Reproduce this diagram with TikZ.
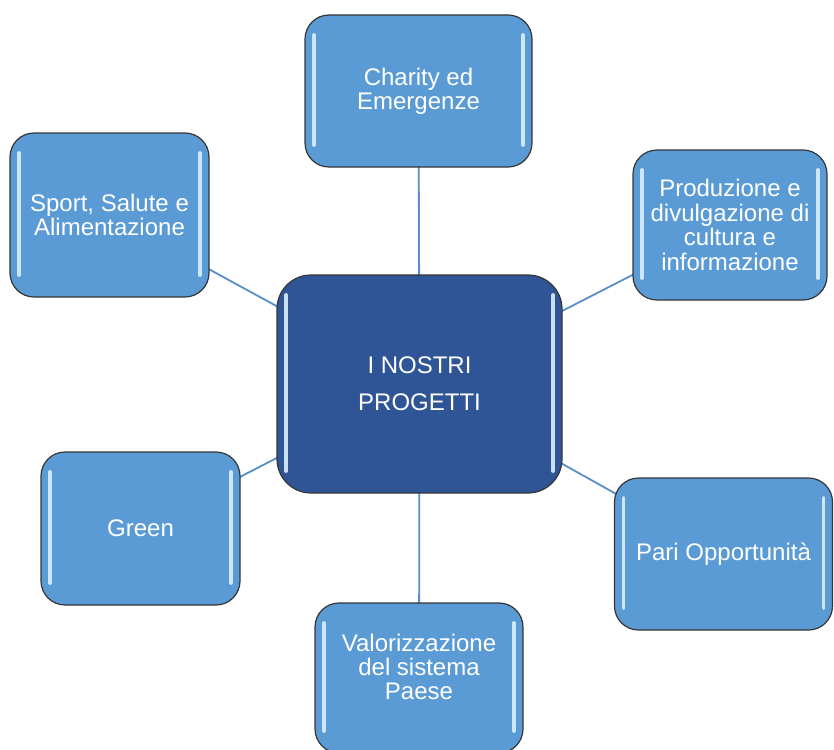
\documentclass[tikz,border=0pt]{standalone}
\usepackage{fontspec}
\setmainfont{Liberation Sans}
\usetikzlibrary{backgrounds}
\definecolor{LIGHTBLUE}{HTML}{5B9BD5}
\definecolor{DARKBLUE}{HTML}{2F5597}
\definecolor{LINEBLUE}{HTML}{5A8EC6}
\definecolor{EDGE}{HTML}{363636}
\definecolor{GLOSS}{HTML}{DCEEFC}

\begin{document}
\begin{tikzpicture}[x=0.5pt, y=-0.5pt,
    box/.style={draw=EDGE, line width=0.6pt, fill=LIGHTBLUE, rounded corners=12pt,
      text=white, align=center, inner sep=0pt, font=\fontsize{12}{12.2}\selectfont,
      path picture={
        \draw[GLOSS, line width=1.9pt, line cap=round, opacity=0.9]
          ([xshift=4.5pt,yshift=-10pt]path picture bounding box.north west) --
          ([xshift=4.5pt,yshift=11pt]path picture bounding box.south west);
        \draw[GLOSS, line width=1.9pt, line cap=round, opacity=0.9]
          ([xshift=-4.5pt,yshift=-10pt]path picture bounding box.north east) --
          ([xshift=-4.5pt,yshift=11pt]path picture bounding box.south east);}},
    hub/.style={box, fill=DARKBLUE, rounded corners=17pt, font=\fontsize{12}{18.5}\selectfont},
    link/.style={LINEBLUE, line width=0.9pt}]
  \useasboundingbox (0,0) rectangle (834,749);

  \node[hub, minimum width=142.5pt, minimum height=109pt] (progetti) at (419.5,384) {I NOSTRI\\PROGETTI};
  \node[box, minimum width=113.5pt, minimum height=76pt] (charity) at (418.5,91) {Charity ed\\Emergenze};
  \node[box, minimum width=97pt, minimum height=75pt] (cultura) at (730,225) {Produzione e\\divulgazione di\\cultura e\\informazione};
  \node[box, minimum width=109pt, minimum height=76pt] (pari) at (723.5,554) {Pari Opportunità};
  \node[box, minimum width=104pt, minimum height=75pt] (paese) at (419,678) {Valorizzazione\\del sistema\\Paese\\[-1pt]};
  \node[box, minimum width=99.5pt, minimum height=76.5pt] (green) at (140.5,528.5) {Green};
  \node[box, minimum width=99.5pt, minimum height=82pt] (sport) at (109.5,215) {Sport, Salute e\\Alimentazione};

  \begin{scope}[on background layer]
    \foreach \n in {charity, cultura, pari, paese, green, sport}
      \draw[link] (progetti.center) -- (\n.center);
  \end{scope}
\end{tikzpicture}
\end{document}
